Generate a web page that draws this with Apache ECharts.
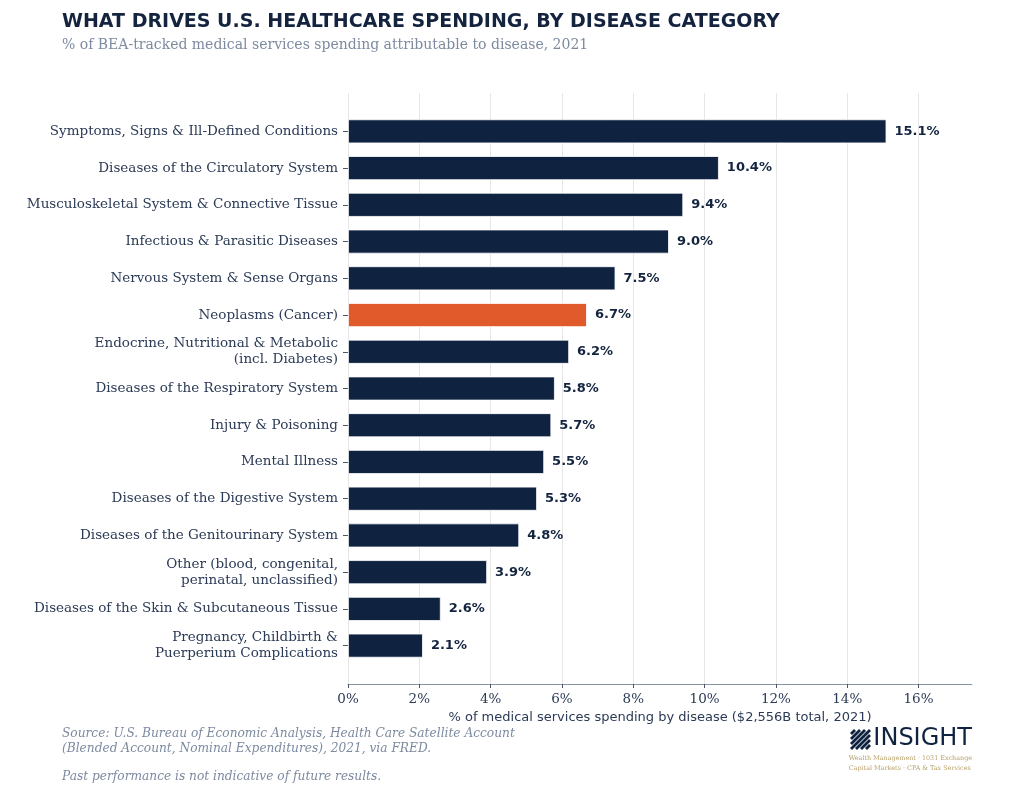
<!DOCTYPE html>
<html>
<head>
<meta charset="utf-8">
<script src="https://cdn.jsdelivr.net/npm/echarts@6/dist/echarts.min.js"></script>
<style>
  html, body { margin: 0; padding: 0; background: #fff; }
  #chart { width: 1024px; height: 810px; }
</style>
</head>
<body>
<div id="chart"></div>
<script>
// 数据
var categories = [
    'Symptoms, Signs & Ill-Defined Conditions',
    'Diseases of the Circulatory System',
    'Musculoskeletal System & Connective Tissue',
    'Infectious & Parasitic Diseases',
    'Nervous System & Sense Organs',
    'Neoplasms (Cancer)',
    'Endocrine, Nutritional & Metabolic\n(incl. Diabetes)',
    'Diseases of the Respiratory System',
    'Injury & Poisoning',
    'Mental Illness',
    'Diseases of the Digestive System',
    'Diseases of the Genitourinary System',
    'Other (blood, congenital,\nperinatal, unclassified)',
    'Diseases of the Skin & Subcutaneous Tissue',
    'Pregnancy, Childbirth &\nPuerperium Complications'
];
var shares = [15.1, 10.4, 9.4, 9.0, 7.5, 6.7, 6.2, 5.8, 5.7, 5.5, 5.3, 4.8, 3.9, 2.6, 2.1];
var highlight = 'Neoplasms (Cancer)';
var xTicks = [0, 2, 4, 6, 8, 10, 12, 14, 16];

var NAVY = '#0f2341';
var ORANGE = '#e05a2b';
var TEXT = '#2b3a55';
var MUTED = '#7d8aa0';
var X_MAX = 17.5;

var myChart = echarts.init(document.getElementById('chart'));

// logo条纹
var stripes = [];
var sx = 851, sy = 730, ss = 19;
[4, 9, 14, 19].forEach(function (k) {
    stripes.push({ type: 'line', shape: { x1: sx, y1: sy + k, x2: sx + k, y2: sy },
        style: { stroke: NAVY, lineWidth: 2.8 } });
});
[5, 10, 15].forEach(function (k) {
    stripes.push({ type: 'line', shape: { x1: sx + k, y1: sy + ss, x2: sx + ss, y2: sy + k },
        style: { stroke: NAVY, lineWidth: 2.8 } });
});

var option = {
    backgroundColor: '#ffffff',
    animation: false,
    textStyle: { fontFamily: 'DejaVu Serif' },
    title: [{
        text: 'WHAT DRIVES U.S. HEALTHCARE SPENDING, BY DISEASE CATEGORY',
        left: 62, top: 13, padding: 0,
        textStyle: { fontFamily: 'DejaVu Sans', fontWeight: 'bold', fontSize: 19, color: '#14243f' }
    }, {
        text: '% of BEA-tracked medical services spending attributable to disease, 2021',
        left: 62, top: 38, padding: 0,
        textStyle: { fontFamily: 'DejaVu Serif', fontWeight: 'normal', fontSize: 14, color: MUTED }
    }],
    grid: [
        { left: 348, right: 52, top: 113, bottom: 146 },   // 柱状图
        { left: 348, right: 52, top: 93, bottom: 126 }     // 网格线和x轴
    ],
    xAxis: [{
        gridIndex: 0, type: 'value', min: 0, max: X_MAX, show: false
    }, {
        gridIndex: 1, type: 'value', min: 0, max: X_MAX, interval: 2,
        name: '% of medical services spending by disease ($2,556B total, 2021)',
        nameLocation: 'middle', nameGap: 27,
        nameTextStyle: { fontFamily: 'DejaVu Sans', fontSize: 13, color: TEXT },
        axisLine: { show: true, lineStyle: { color: '#8a94a6', width: 1 } },
        axisTick: { show: true, length: 4, lineStyle: { color: '#4a5568' }, customValues: xTicks },
        axisLabel: { customValues: xTicks, margin: 8, fontFamily: 'DejaVu Serif', fontSize: 13.5, color: TEXT,
            formatter: function (v) { return v + '%'; } },
        splitLine: { show: true, lineStyle: { color: '#e6e6e6', width: 1 } }
    }],
    yAxis: [{
        gridIndex: 0, type: 'category', data: categories, inverse: true,
        axisLine: { show: false },
        axisTick: { show: true, alignWithLabel: true, length: 5, lineStyle: { color: '#4a5568' } },
        axisLabel: { margin: 10, fontFamily: 'DejaVu Serif', fontSize: 13.5, lineHeight: 16, color: TEXT },
        splitLine: { show: false }
    }, {
        gridIndex: 1, type: 'value', min: 0, max: 1, show: false
    }],
    series: [{
        type: 'bar',
        xAxisIndex: 0, yAxisIndex: 0,
        barWidth: 24,
        data: shares.map(function (v, i) {
            return {
                value: v,
                itemStyle: { color: categories[i] === highlight ? ORANGE : NAVY }
            };
        }),
        itemStyle: { borderColor: '#ffffff', borderWidth: 0.8 },
        label: {
            show: true, position: 'right', distance: 8,
            fontFamily: 'DejaVu Sans', fontWeight: 'bold', fontSize: 13, color: '#14243f',
            formatter: function (p) { return p.value.toFixed(1) + '%'; }
        }
    }],
    graphic: [{
        type: 'text', left: 62, top: 726,
        style: {
            text: 'Source: U.S. Bureau of Economic Analysis, Health Care Satellite Account\n(Blended Account, Nominal Expenditures), 2021, via FRED.',
            font: 'italic 12.2px "DejaVu Serif"', fill: MUTED, lineHeight: 15
        }
    }, {
        type: 'text', left: 62, top: 771,
        style: { text: 'Past performance is not indicative of future results.',
            font: 'italic 12.2px "DejaVu Serif"', fill: MUTED }
    }, {
        type: 'group', children: stripes
    }, {
        type: 'text', right: 52, top: 727,
        style: { text: 'INSIGHT', font: '24px "DejaVu Sans"', fill: NAVY }
    }, {
        type: 'text', right: 52, top: 753,
        style: { text: 'Wealth Management · 1031 Exchange\nCapital Markets · CPA & Tax Services',
            font: '6.4px "DejaVu Serif"', fill: '#b8a06a', align: 'right', lineHeight: 10 }
    }]
};
myChart.setOption(option);
</script>
</body>
</html>
